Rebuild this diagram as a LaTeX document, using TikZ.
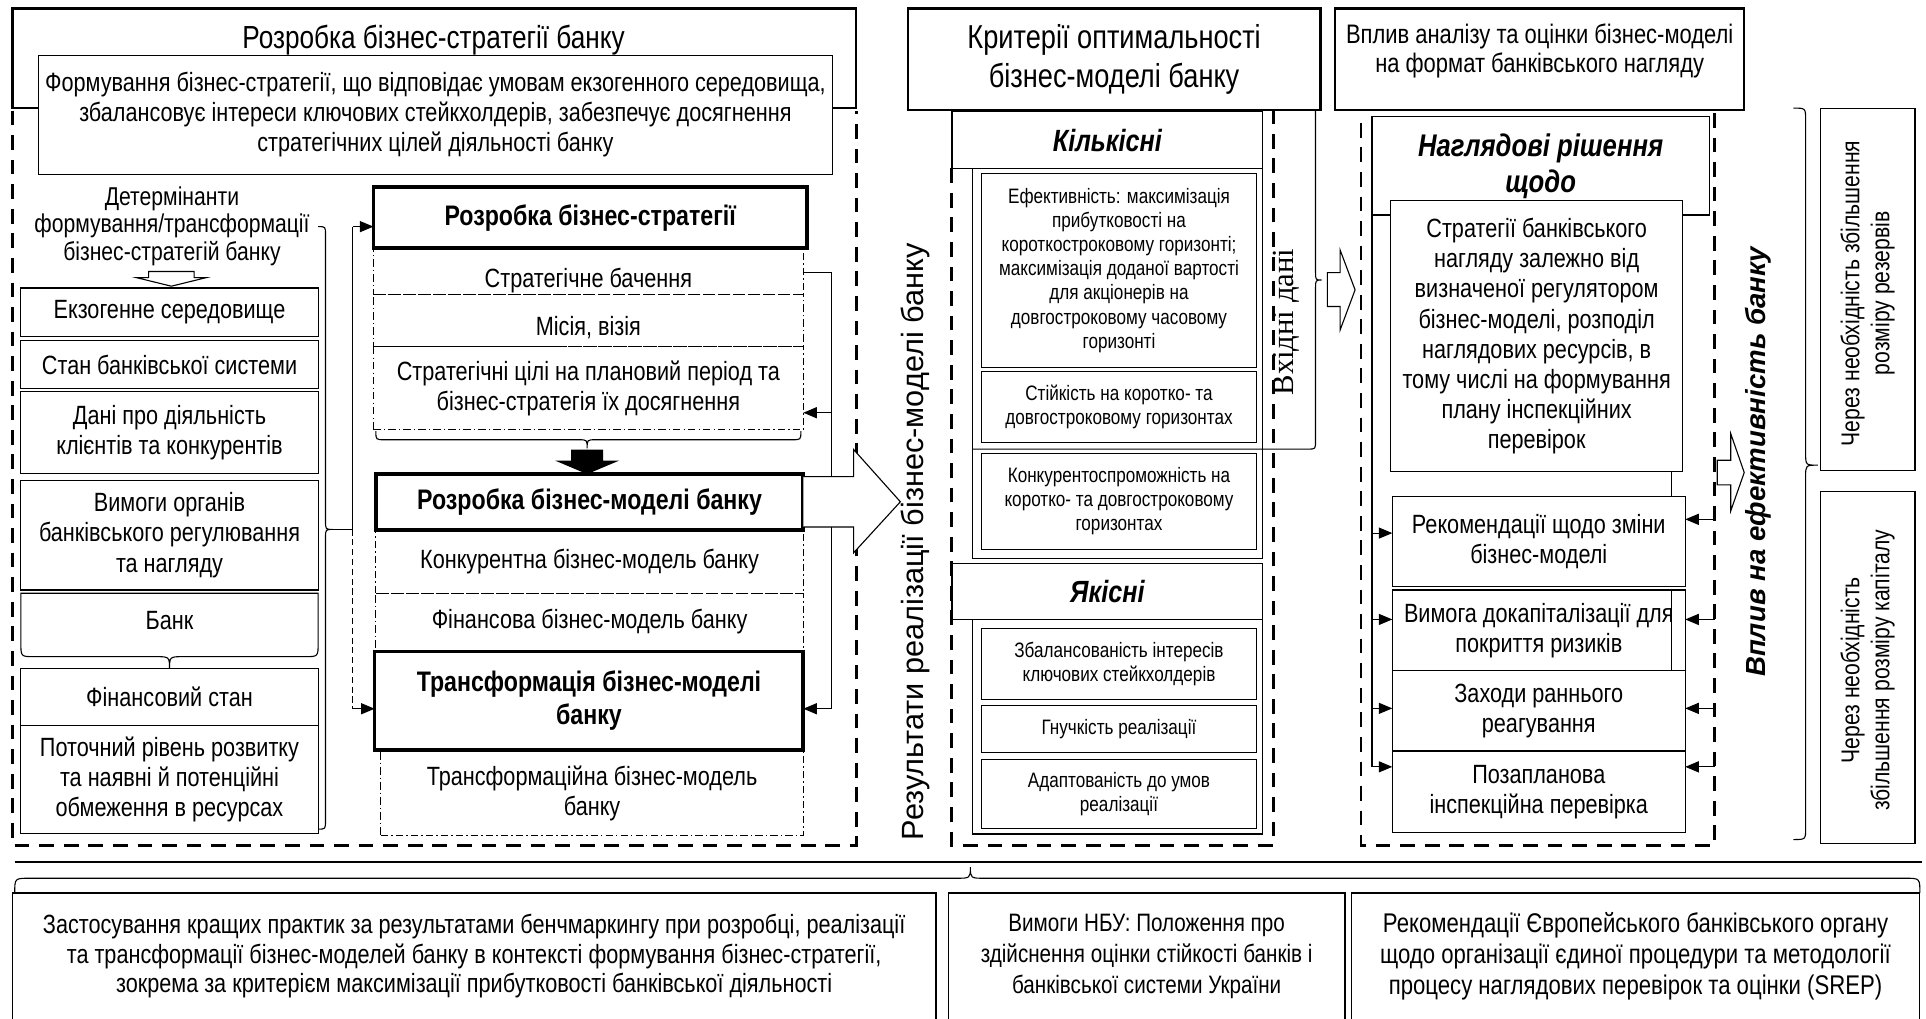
\documentclass[tikz,border=0pt]{standalone}
\usepackage{fontspec}
\setmainfont{Liberation Sans}[FakeStretch=0.82]
\newfontfamily\widesans{Liberation Sans}
\newfontfamily\timesfam{Liberation Serif}
\usetikzlibrary{arrows.meta}
\newcommand\setfs[2]{\fontsize{#1}{#2}\selectfont}
% box from its top-left (x1,y1) to its bottom-right (x2,y2)
\newcommand\placebox[7]{\node[#1, anchor=north west, minimum width={(#5)-(#3)}, minimum height={(#6)-(#4)}] (#2) at (#3,#4) {#7};}
\begin{document}
\begin{tikzpicture}[x=1pt, y=-1pt,
  every node/.style={font=\setfs{21.5}{24.5}, inner sep=0pt, outer sep=0pt},
  titlebox/.style={draw, line width=2pt, fill=white, align=center},
  keybox/.style={draw, line width=3pt, fill=white, align=center, font=\bfseries\setfs{23}{27}},
  plainbox/.style={draw, line width=0.9pt, fill=white, align=center},
  ddbox/.style={draw, line width=0.8pt, dash pattern=on 6pt off 2.5pt on 1.2pt off 2.5pt, align=center},
  smallbox/.style={plainbox, font=\setfs{17}{19.7}},
  headbox/.style={plainbox, font=\bfseries\itshape\setfs{25}{29.3}},
  panelframe/.style={draw, line width=2.4pt, dash pattern=on 12pt off 8pt},
  conn/.style={draw, line width=0.9pt},
  arr/.style={conn, -{Triangle[length=11pt,width=9pt]}},
  hollow/.style={draw, line width=0.9pt, fill=white, line join=miter},
  bracepath/.style={draw, line width=0.9pt}
]
\useasboundingbox (0,0) rectangle (1568,829);

% ---------------- left panel: business strategy ----------------
\placebox{titlebox}{lt}{10}{7}{697}{88}{}
\node[font=\setfs{26}{30}] (lttl) at (353,33) {Розробка бізнес-стратегії банку};
\placebox{plainbox}{form}{31}{45}{678}{142}{Формування бізнес-стратегії, що відповідає умовам екзогенного середовища,\\збалансовує інтереси ключових стейкхолдерів, забезпечує досягнення\\стратегічних цілей діяльності банку}
\draw[panelframe] (10,90) -- (10,688) -- (697,688) -- (697,90);

\node[align=center, font=\setfs{21}{22.5}] (det) at (140,184) {Детермінанти\\формування/трансформації\\бізнес-стратегій банку};
\draw[hollow] (121,221) -- (158,221) -- (158,226) -- (168,226) -- (139.5,233) -- (111,226) -- (121,226) -- cycle;

\placebox{plainbox}{exo}{17}{234.5}{259}{273.7}{Екзогенне середовище}
\placebox{plainbox}{sys}{17}{277.2}{259}{316.3}{Стан банківської системи}
\placebox{plainbox}{cli}{17}{318.9}{259}{385.7}{Дані про діяльність\\клієнтів та конкурентів}
\placebox{plainbox}{reg}{17}{391}{259}{480.3}{Вимоги органів\\банківського регулювання\\та нагляду}
\draw[conn] (17,523.6) -- (17,483) -- (259,483) -- (259,523.6)
  .. controls (259,534.6) .. (248,534.6) -- (149,534.6) .. controls (138,534.6) .. (138,545.5)
  .. controls (138,534.6) .. (127,534.6) -- (28,534.6) .. controls (17,534.6) .. (17,523.6);
\node (bank) at (138,505) {Банк};
\placebox{plainbox}{fin}{17}{544}{259}{590.5}{Фінансовий стан}
\placebox{plainbox}{res}{17}{590.5}{259}{678.4}{Поточний рівень розвитку\\та наявні й потенційні\\обмеження в ресурсах}

% brace gathering the determinants
\draw[bracepath] (259,184.5) .. controls (265,184.5) .. (265,191) -- (265,424) .. controls (265,431) .. (271,431)
  .. controls (265,431) .. (265,438) -- (265,668) .. controls (265,675) .. (259,675);

\placebox{keybox}{strat}{304}{152.5}{657}{202}{Розробка бізнес-стратегії}
\placebox{ddbox}{vis}{304}{203.5}{654}{240}{\raisebox{-7pt}[\height][\depth]{Стратегічне бачення}}
\placebox{ddbox}{mis}{304}{240}{654}{282}{\raisebox{-6pt}[\height][\depth]{Місія, візія}}
\placebox{ddbox}{goal}{304}{282}{654}{350}{Стратегічні цілі на плановий період та\\бізнес-стратегія їх досягнення}
\draw[bracepath] (306,351) .. controls (306,358) .. (313,358) -- (471,358) .. controls (478,358) .. (478,365)
  .. controls (478,358) .. (485,358) -- (645,358) .. controls (652,358) .. (652,351);
\fill (465,366) -- (491,366) -- (491,375) -- (504,375) -- (478,386) -- (452,375) -- (465,375) -- cycle;
\placebox{keybox}{bm}{306}{386}{654}{431.5}{Розробка бізнес-моделі банку}
\placebox{ddbox}{comp}{306}{431.5}{654}{483}{Конкурентна бізнес-модель банку}
\placebox{ddbox}{finm}{306}{483}{654}{529.5}{Фінансова бізнес-модель банку}
\placebox{keybox}{trans}{305}{530.5}{654}{610.6}{Трансформація бізнес-моделі\\банку}
\placebox{ddbox}{transm}{310}{612}{654}{680}{Трансформаційна бізнес-модель\\банку}

% determinants feed strategy and transformation
\coordinate (btip) at (271,431);
\coordinate (bus) at (287,431);
\coordinate (bt) at (287,184.5);
\coordinate (bb) at (287,577);
\draw[conn] (btip) -- (bus) -- (bt);
\draw[arr] (bt) -- (bt -| strat.west);
\draw[conn, line width=0.8pt, dash pattern=on 5pt off 3pt] (bus) -- (bb);
\draw[arr] (bb) -- (bb -| trans.west);

% feedback loops on the right side
\coordinate (fa) at (677,388);
\coordinate (fa3) at (677,336);
\draw[conn] (vis.east) -| (fa);
\draw[arr] (fa3) -- (fa3 -| goal.east);
\coordinate (fb1) at (677,429);
\coordinate (fb2) at (677,577);
\draw[conn] (fb1) -- (fb2);
\draw[arr] (fb2) -- (fb2 -| trans.east);

% big outgoing arrow
\draw[hollow] (654,388) -- (695,388) -- (695,366) -- (733,408.5) -- (695,450) -- (695,429) -- (654,429);

\node[rotate=90, anchor=base, font=\widesans\setfs{25}{29}] (results) at (752,441) {Результати реалізації бізнес-моделі банку};

% ---------------- middle panel: optimality criteria ----------------
\placebox{titlebox, font=\setfs{27}{31.2}}{crit}{739}{7}{1075}{89.5}{Критерії оптимальності\\бізнес-моделі банку}
\draw[panelframe] (775,137) -- (775,688) -- (1037,688) -- (1037,89.5);
\placebox{headbox}{quant}{775}{91}{1028}{137}{Кількісні}
\placebox{plainbox}{qc}{791.5}{137}{1028}{454.6}{}
\placebox{smallbox}{eff}{799}{141}{1023}{299}{Ефективність: максимізація\\прибутковості на\\короткостроковому горизонті;\\максимізація доданої вартості\\для акціонерів на\\довгостроковому часовому\\горизонті}
\placebox{smallbox}{stab}{799}{302.5}{1023}{360.5}{Стійкість на коротко- та\\довгостроковому горизонтах}
\placebox{smallbox}{compet}{799}{369}{1023}{447}{Конкурентоспроможність на\\коротко- та довгостроковому\\горизонтах}
\placebox{headbox}{qual}{775}{458.6}{1028}{504.3}{Якісні}
\placebox{plainbox}{qlc}{791.5}{504.3}{1028}{679}{}
\placebox{smallbox}{bal}{799}{512}{1023}{569.8}{Збалансованість інтересів\\ключових стейкхолдерів}
\placebox{smallbox}{flex}{799}{574.5}{1023}{612.5}{Гнучкість реалізації}
\placebox{smallbox}{adapt}{799}{618}{1023}{674.5}{Адаптованість до умов\\реалізації}

% input-data brace
\draw[bracepath] (1071,89.5) -- (1071,221) .. controls (1071,228) .. (1076,228)
  .. controls (1071,228) .. (1071,235) -- (1071,359) .. controls (1071,365.6) .. (1065,365.6) -- (791.5,365.6);
\node[rotate=90, anchor=base, font=\timesfam\setfs{25}{29}] (input) at (1053,262) {Вхідні дані};
\draw[hollow] (1080.6,222) -- (1091,222) -- (1091,203.5) -- (1103.2,236) -- (1091,268.7) -- (1091,249.5) -- (1080.6,249.5) -- cycle;

% ---------------- right panel: supervision ----------------
\placebox{titlebox}{infl}{1087}{7}{1420}{89.5}{}
\node[align=center, font=\setfs{21.8}{23}] (inflt) at (1253.5,41.5) {Вплив аналізу та оцінки бізнес-моделі\\на формат банківського нагляду};
\draw[panelframe] (1108,100) -- (1108,688) -- (1396,688) -- (1396,89.5);
\placebox{headbox, font=\bfseries\itshape\setfs{25.5}{29.3}}{nagl}{1117}{95}{1391.5}{175}{Наглядові рішення\\щодо}
\placebox{plainbox}{strat2}{1132}{163.4}{1370}{384}{Стратегії банківського\\нагляду залежно від\\визначеної регулятором\\бізнес-моделі, розподіл\\наглядових ресурсів, в\\тому числі на формування\\плану інспекційних\\перевірок}
\coordinate (s2) at (1361,0);
\draw[conn] (strat2.south -| s2) -- (1361,404.4);
\placebox{plainbox}{rec}{1133.5}{404.4}{1372}{477.6}{Рекомендації щодо зміни\\бізнес-моделі}
\placebox{plainbox}{cap}{1133.5}{480.3}{1372}{546}{Вимога докапіталізації для\\покриття ризиків}
\draw[conn] (cap.north -| s2) -- (cap.south -| s2);
\placebox{plainbox}{early}{1133.5}{546}{1372}{611.4}{Заходи раннього\\реагування}
\placebox{plainbox}{unpl}{1133.5}{611.4}{1372}{678}{Позапланова\\інспекційна перевірка}

\coordinate (la1) at (1117,434);
\coordinate (la2) at (1117,504.3);
\coordinate (la3) at (1117,576.7);
\coordinate (la4) at (1117,624.3);
\draw[conn] (nagl.south west) -- (la4);
\draw[arr] (la1) -- (la1 -| rec.west);
\draw[arr] (la2) -- (la2 -| cap.west);
\draw[arr] (la3) -- (la3 -| early.west);
\draw[arr] (la4) -- (la4 -| unpl.west);

\coordinate (ra1) at (1396,422.8);
\coordinate (ra2) at (1396,504.3);
\coordinate (ra3) at (1396,576.7);
\coordinate (ra4) at (1396,624.3);
\draw[arr] (ra1) -- (ra1 -| rec.east);
\draw[arr] (ra2) -- (ra2 -| cap.east);
\draw[arr] (ra3) -- (ra3 -| early.east);
\draw[arr] (ra4) -- (ra4 -| unpl.east);

\draw[hollow] (1398,374.7) -- (1409,374.7) -- (1409,353) -- (1420,384.7) -- (1409,416) -- (1409,394.7) -- (1398,394.7) -- cycle;
\node[rotate=90, anchor=base, font=\widesans\bfseries\itshape\setfs{22.5}{26}] (effect) at (1437,376) {Вплив на ефективність банку};

\draw[bracepath] (1460,88) .. controls (1470,88) .. (1470,98) -- (1470,369) .. controls (1470,378.7) .. (1480,378.7)
  .. controls (1470,378.7) .. (1470,388) -- (1470,674) .. controls (1470,683.5) .. (1460,683.5);
\placebox{plainbox}{resv}{1482}{88}{1559}{382.7}{}
\node[rotate=90, align=center, font=\setfs{21}{24.4}, xshift=-3.5pt] (resvt) at (resv.center) {Через необхідність збільшення\\розміру резервів};
\placebox{plainbox}{capb}{1482}{400.3}{1559}{687}{}
\node[rotate=90, align=center, font=\setfs{21}{24.4}, xshift=-2pt] (capbt) at (capb.center) {Через необхідність\\збільшення розміру капіталу};

% ---------------- bottom: sources ----------------
\draw[line width=1.4pt] (12,701.5) -- (1565,701.5);
\draw[bracepath] (12,727) .. controls (12,715) .. (24,715) -- (778,715) .. controls (790,715) .. (790,706)
  .. controls (790,715) .. (802,715) -- (1551,715) .. controls (1563,715) .. (1563,727);
\placebox{plainbox, font=\setfs{21.5}{24}}{bp1}{10}{727}{762}{830}{Застосування кращих практик за результатами бенчмаркингу при розробці, реалізації\\та трансформації бізнес-моделей банку в контексті формування бізнес-стратегії,\\зокрема за критерієм максимізації прибутковості банківської діяльності}
\placebox{plainbox, font=\setfs{20.5}{25}}{bp2}{772}{727}{1095}{830}{Вимоги НБУ: Положення про\\здійснення оцінки стійкості банків і\\банківської системи України}
\placebox{plainbox, font=\setfs{22}{25}}{bp3}{1100}{727}{1563}{830}{Рекомендації Європейського банківського органу\\щодо організації єдиної процедури та методології\\процесу наглядових перевірок та оцінки (SREP)}
\end{tikzpicture}
\end{document}
